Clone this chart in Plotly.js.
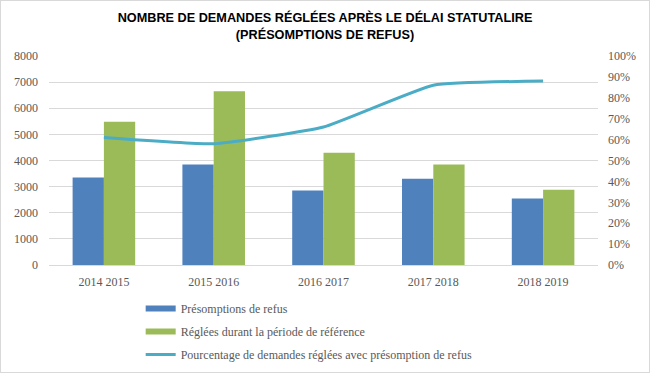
<!DOCTYPE html>
<html><head><meta charset="utf-8">
<script src="https://cdn.plot.ly/plotly-3.0.1.min.js"></script>
<style>
html,body{margin:0;padding:0;background:#fff;}
#c{width:650px;height:373px;box-sizing:border-box;border:1px solid #d9d9d9;}
</style></head>
<body><div id="c"></div>
<script>
const categories = ["2014 2015","2015 2016","2016 2017","2017 2018","2018 2019"];
const presomptions = [3350, 3850, 2850, 3300, 2550];
const reglees = [5480, 6650, 4300, 3850, 2880];
const pourcentage = [0.61, 0.58, 0.66, 0.86, 0.88];
const leftTicks = [0,1000,2000,3000,4000,5000,6000,7000,8000];
const rightTicks = [0,0.1,0.2,0.3,0.4,0.5,0.6,0.7,0.8,0.9,1.0];
const seriesNames = ["Présomptions de refus","Réglées durant la période de référence","Pourcentage de demandes réglées avec présomption de refus"];
const seriesColors = ["#4f81bd","#9bbb59","#4bacc6"];

const tickFont = {family:"Liberation Serif, serif", size:12, color:"#595959"};
const traces = [
  {type:"bar", x:categories, y:presomptions, name:seriesNames[0], showlegend:false,
   marker:{color:seriesColors[0]}, hoverinfo:"skip"},
  {type:"bar", x:categories, y:reglees, name:seriesNames[1], showlegend:false,
   marker:{color:seriesColors[1]}, hoverinfo:"skip"},
  {type:"scatter", mode:"lines", x:categories, y:pourcentage, yaxis:"y2",
   name:seriesNames[2], legendgroup:"c", legendrank:3,
   line:{color:seriesColors[2], width:3, shape:"spline", smoothing:0.4}, hoverinfo:"skip"},
  // legend entries for the bars (wide flat keys, as in the reference)
  {type:"scatter", mode:"lines", x:[categories[0]], y:[null], name:seriesNames[0],
   legendgroup:"a", legendrank:1, line:{color:seriesColors[0], width:6}, hoverinfo:"skip"},
  {type:"scatter", mode:"lines", x:[categories[0]], y:[null], name:seriesNames[1],
   legendgroup:"b", legendrank:2, line:{color:seriesColors[1], width:6}, hoverinfo:"skip"}
];
const layout = {
  width:648, height:371,
  margin:{l:48, r:51, t:55, b:107},
  paper_bgcolor:"#fff", plot_bgcolor:"#fff",
  title:{text:"<b>NOMBRE DE DEMANDES RÉGLÉES APRÈS LE DÉLAI STATUTALIRE<br>(PRÉSOMPTIONS DE REFUS)</b>",
    font:{family:"Liberation Sans, Arial, sans-serif", size:12.7, color:"#000"},
    x:0.5, xanchor:"center", yref:"container", y:0.943, yanchor:"top"},
  barmode:"group", bargap:0.43, bargroupgap:0,
  showlegend:true,
  legend:{orientation:"v", x:0.167, xanchor:"left", yref:"container", y:0.21, yanchor:"top",
    font:{family:"Liberation Serif, serif", size:12, color:"#595959"},
    tracegroupgap:4, traceorder:"grouped", itemwidth:30},
  xaxis:{type:"category", tickfont:tickFont, showgrid:false, showline:true,
    linecolor:"#d9d9d9", linewidth:1, ticks:"", ticklabelstandoff:6, fixedrange:true},
  yaxis:{range:[0,8000], tickvals:leftTicks, ticktext:leftTicks.map(String), tickfont:tickFont,
    showgrid:true, gridcolor:"#d9d9d9", gridwidth:1, zeroline:false, ticks:"", ticklabelstandoff:10},
  yaxis2:{range:[0,1], overlaying:"y", side:"right", tickvals:rightTicks,
    ticktext:rightTicks.map(v=>Math.round(v*100)+"%"), tickfont:tickFont,
    showgrid:false, zeroline:false, ticks:"", ticklabelstandoff:9}
};
Plotly.newPlot("c", traces, layout, {staticPlot:true, displayModeBar:false});
</script></body></html>
